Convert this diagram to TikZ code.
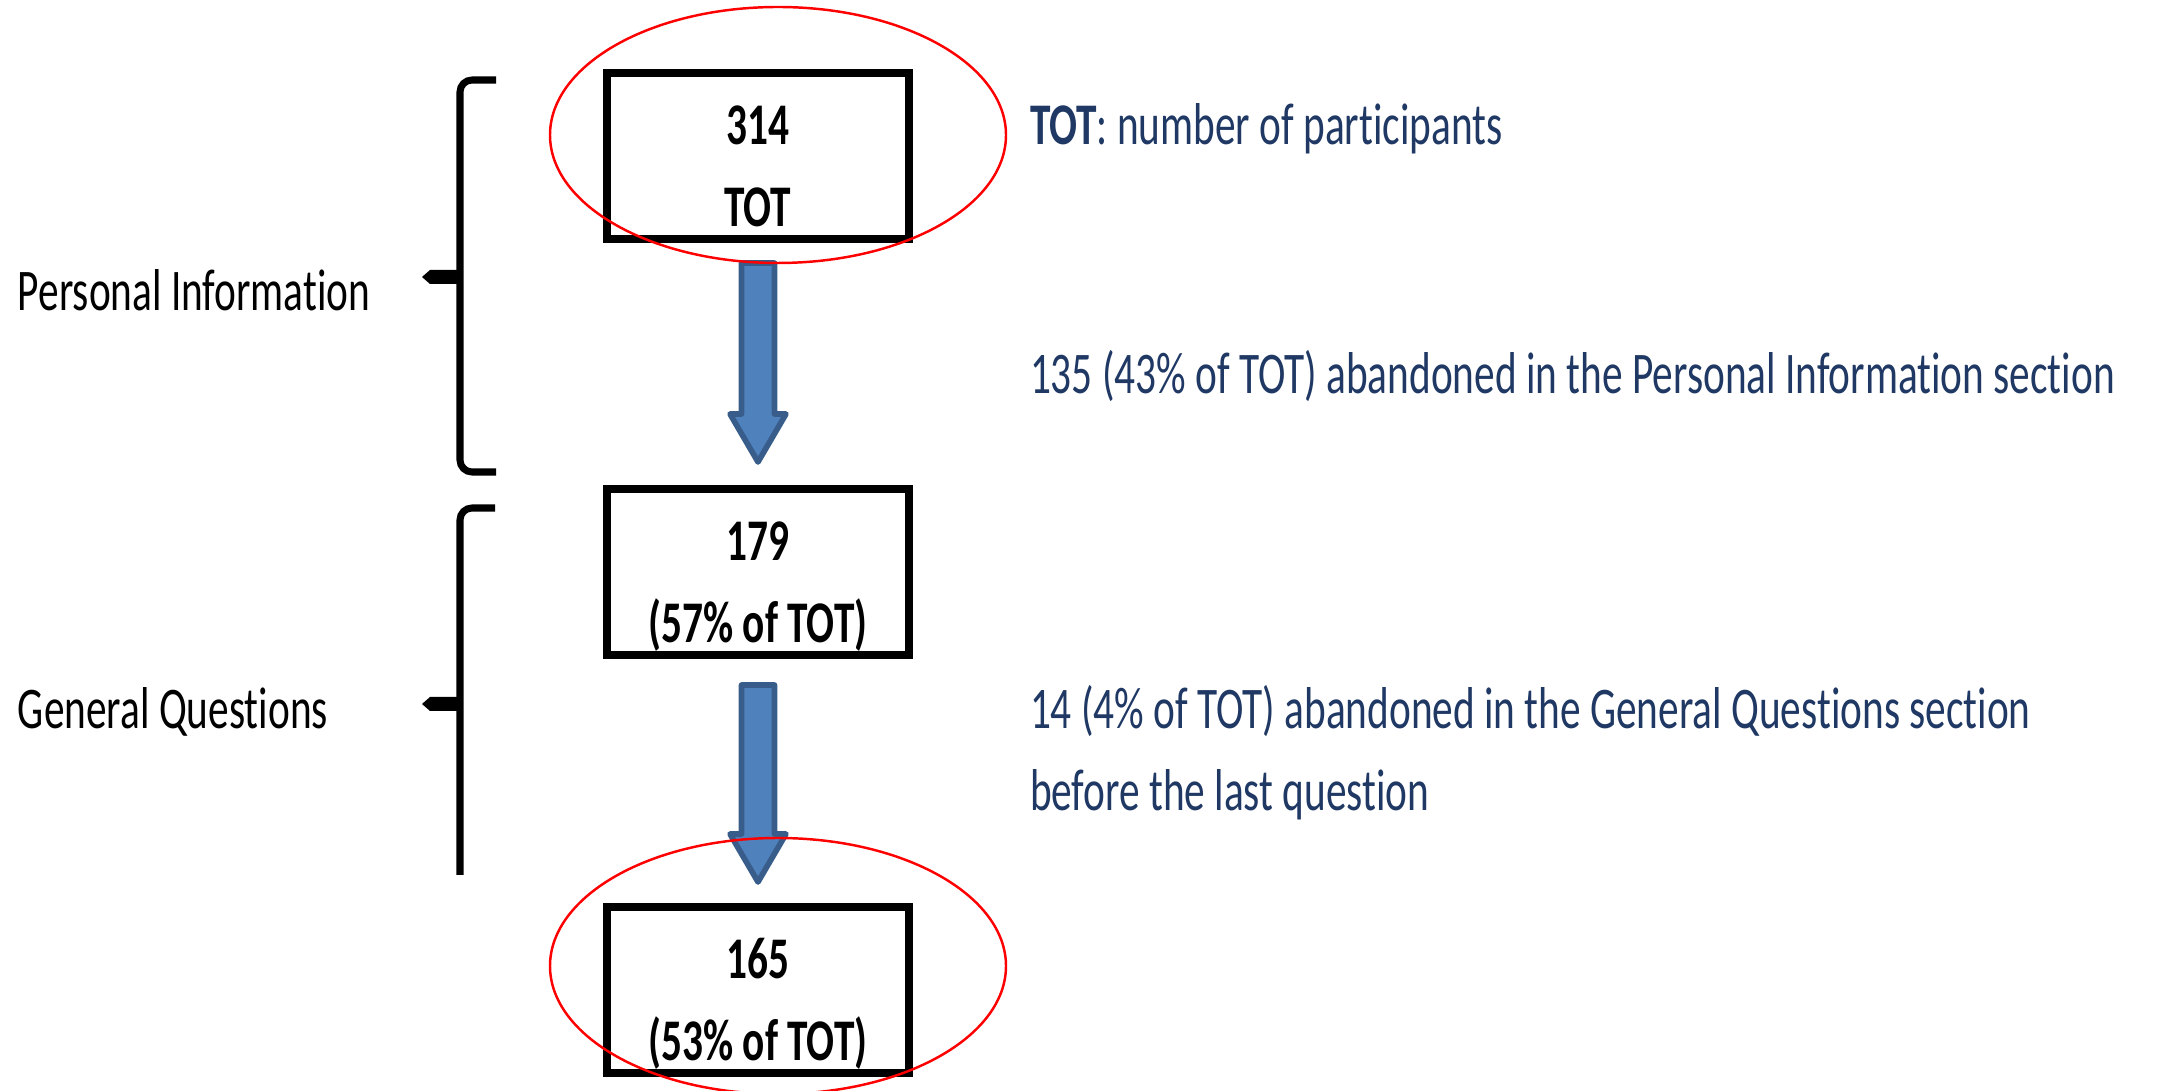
\documentclass[tikz,border=0pt]{standalone}
\usepackage{fontspec}
\setmainfont{Carlito}[FakeStretch=0.70,Ligatures=NoCommon]
\usetikzlibrary{calc}
\definecolor{notecol}{RGB}{31,56,100}
\definecolor{arrowfill}{RGB}{79,129,189}
\definecolor{arrowline}{RGB}{56,93,138}

\begin{document}
\begin{tikzpicture}[inner sep=0pt,outer sep=0pt,
countbox/.style={draw,rectangle,line width=2.2pt,minimum width=3.02cm,minimum height=1.66cm,align=center,font=\fontsize{16.8}{23.4}\selectfont\bfseries},
note/.style={anchor=base west,align=left,text=notecol,font=\fontsize{16.8}{23.4}\selectfont},
sectlabel/.style={anchor=base west,font=\fontsize{16.8}{20}\selectfont},
flow/.style={draw=arrowline,fill=arrowfill,line width=1.6pt,line join=round},
brace/.style={line width=2pt,rounded corners=0.12cm},
focus/.style={draw=red,line width=0.7pt}]
\useasboundingbox (0,0) rectangle (21.61,10.91);
\draw (7.58,9.35) node[countbox] (tot) {\rule{0pt}{20pt}314\\TOT\rule[-3pt]{0pt}{3pt}};
\draw (7.58,5.19) node[countbox] (mid) {\rule{0pt}{20pt}179\\(57\% of TOT)\rule[-3pt]{0pt}{3pt}};
\draw (7.58,1.01) node[countbox] (final) {\rule{0pt}{20pt}165\\(53\% of TOT)\rule[-3pt]{0pt}{3pt}};
% drop-out arrows
\draw[flow] ($(tot.south)+(-0.165,-0.24)$) -- ($(mid.north)+(-0.165,0.75)$) -- ++(-0.115,0) -- ($(mid.north)+(0,0.27)$) -- ($(mid.north)+(0.28,0.75)$) -- ++(-0.115,0) -- ($(tot.south)+(0.165,-0.24)$) -- cycle;
\draw[flow] ($(mid.south)+(-0.165,-0.30)$) -- ($(final.north)+(-0.165,0.73)$) -- ++(-0.115,0) -- ($(final.north)+(0,0.25)$) -- ($(final.north)+(0.28,0.73)$) -- ++(-0.115,0) -- ($(mid.south)+(0.165,-0.30)$) -- cycle;
% braces
\draw[brace] (4.96,10.11) -- (4.60,10.11) -- (4.60,6.19) -- (4.96,6.19);
\fill (4.60,8.21) -- (4.30,8.21) -- (4.22,8.14) -- (4.30,8.07) -- (4.60,8.07) -- cycle;
\draw[brace] (4.95,5.83) -- (4.60,5.83) -- (4.60,2.16);
\fill (4.60,3.94) -- (4.30,3.94) -- (4.22,3.87) -- (4.30,3.80) -- (4.60,3.80) -- cycle;
% sections
\draw (0.18,7.80) node[sectlabel] (pinfo) {Personal Information};
\draw (0.18,3.62) node[sectlabel] (genq) {General Questions};
% notes
\draw (10.30,9.46) node[note] (totnote) {\textbf{TOT}: number of participants};
\draw (10.30,6.97) node[note] (pinote) {135 (43\% of TOT) abandoned in the Personal Information section};
\draw (10.30,2.80) node[note] (gqnote) {14 (4\% of TOT) abandoned in the General Questions section\\before the last question};
% red marks
\draw[focus] ($(tot)+(0.20,0.21)$) ellipse (2.28 and 1.28);
\draw[focus] ($(final)+(0.20,0.24)$) ellipse (2.28 and 1.28);
\end{tikzpicture}
\end{document}
